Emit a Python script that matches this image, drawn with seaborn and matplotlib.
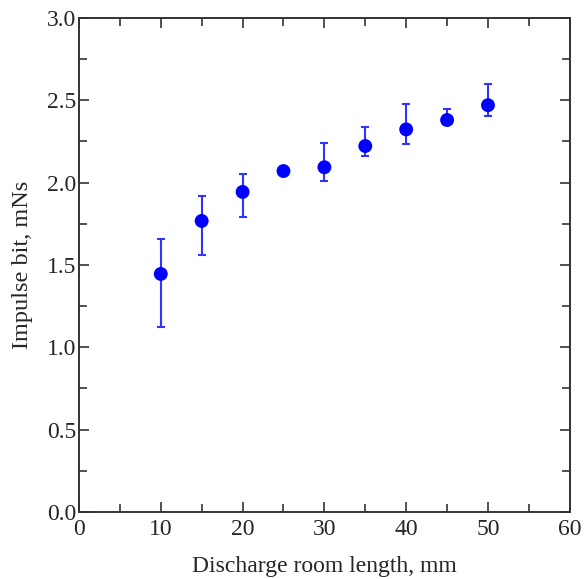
import numpy as np
import pandas as pd
import seaborn as sns
import matplotlib.pyplot as plt
from matplotlib.ticker import MultipleLocator

length_mm = [10, 15, 20, 25, 30, 35, 40, 45, 50]
impulse_mNs = [1.445, 1.767, 1.943, 2.07, 2.093, 2.222, 2.323, 2.38, 2.47]
err_low = [1.12, 1.56, 1.79, 2.07, 2.010, 2.159, 2.237, 2.35, 2.407]
err_high = [1.658, 1.919, 2.05, 2.07, 2.239, 2.337, 2.478, 2.449, 2.597]

df = pd.DataFrame({"length": length_mm, "impulse": impulse_mNs})
lower = np.array(impulse_mNs) - np.array(err_low)
upper = np.array(err_high) - np.array(impulse_mNs)

sns.set_style("ticks")
plt.rcParams['font.family'] = ['Liberation Serif', 'DejaVu Serif']

fig = plt.figure(figsize=(5.85, 5.79), dpi=100)
ax = fig.add_axes([0.135, 0.116, 0.839, 0.853])

ax.errorbar(length_mm, impulse_mNs, yerr=[lower, upper], fmt='none',
            ecolor='#3333ff', elinewidth=1.5, capsize=3, capthick=1.5, zorder=2)
sns.scatterplot(data=df, x="length", y="impulse", ax=ax, color='#0000ff',
                s=100, edgecolor='none', zorder=3)

ax.set_xlim(0, 60)
ax.set_ylim(0, 3.0)
ax.xaxis.set_major_locator(MultipleLocator(10))
ax.xaxis.set_minor_locator(MultipleLocator(5))
ax.yaxis.set_major_locator(MultipleLocator(0.5))
ax.yaxis.set_minor_locator(MultipleLocator(0.25))
ax.yaxis.set_major_formatter(plt.FormatStrFormatter('%.1f'))
ax.tick_params(which='both', direction='in', top=True, right=True,
               color='#333333', width=1.2, labelsize=17, pad=2)
ax.tick_params(axis='x', which='major', pad=5)
ax.tick_params(which='major', length=7)
ax.tick_params(which='minor', length=6)
for s in ax.spines.values():
    s.set_color('#333333')
    s.set_linewidth(1.4)

ax.set_xlabel("Discharge room length, mm", fontsize=17, labelpad=12)
ax.set_ylabel("Impulse bit, mNs", fontsize=17.5, labelpad=10)

fig.savefig("out.png", dpi=100)
